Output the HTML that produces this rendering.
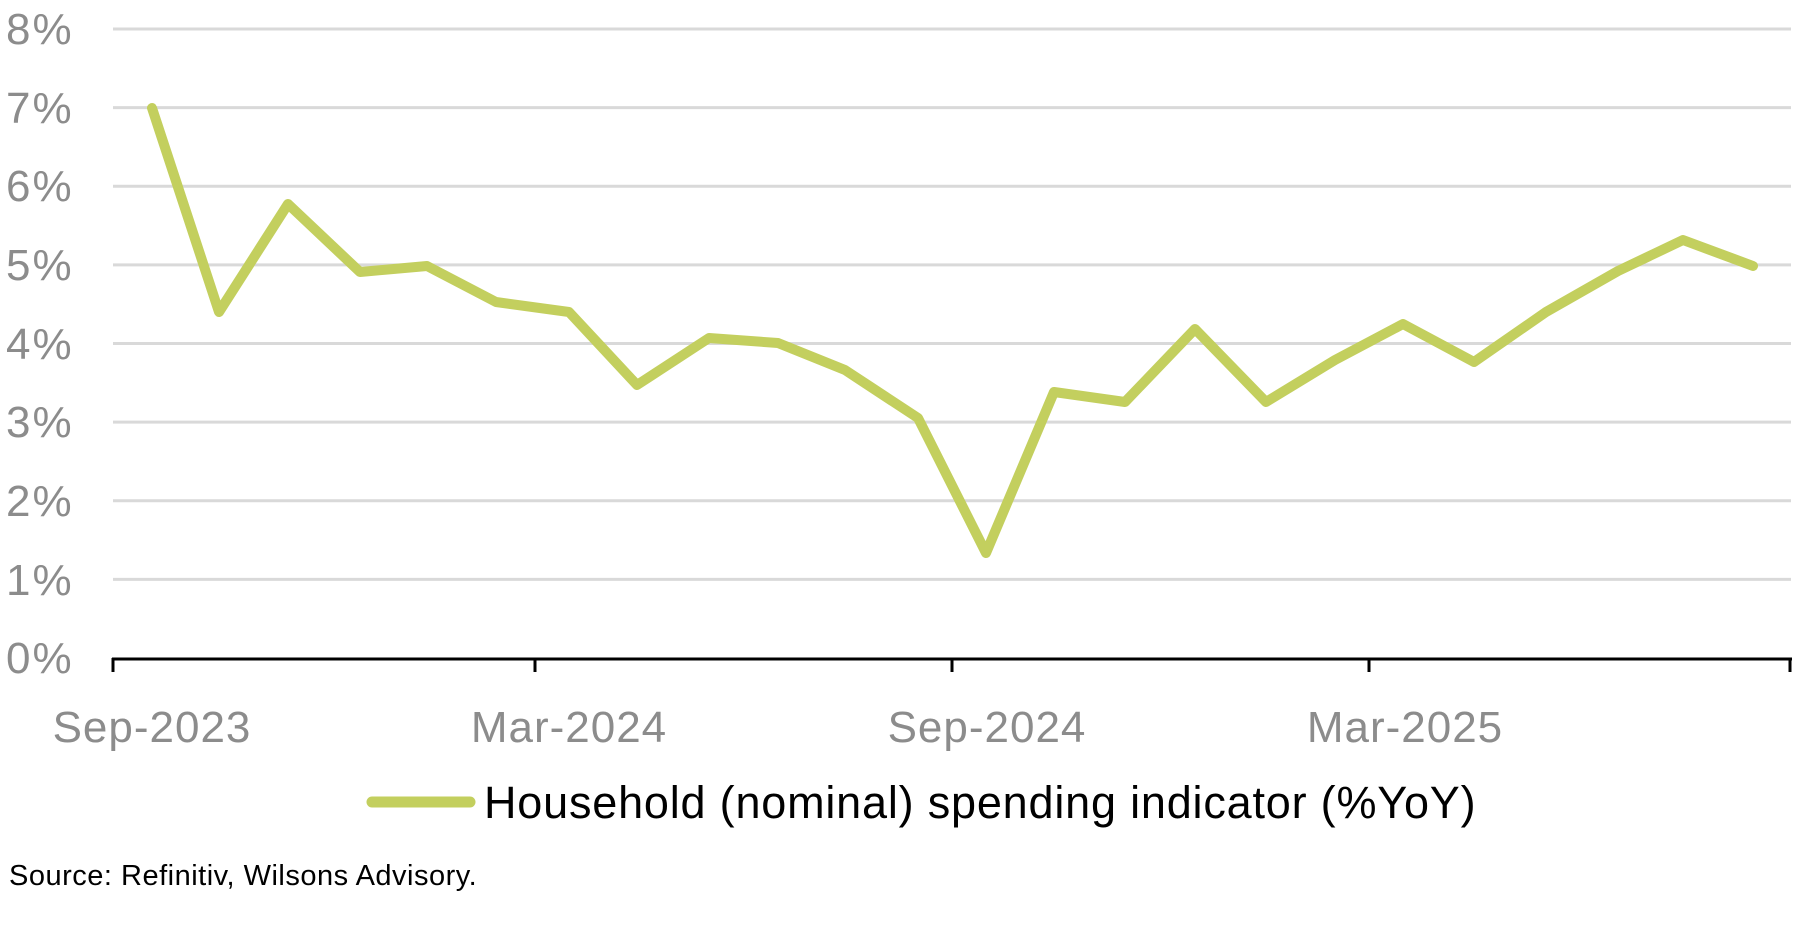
<!DOCTYPE html>
<html><head><style>
html,body{margin:0;padding:0;background:#fff;width:1800px;height:930px;overflow:hidden}
svg{display:block}
</style></head><body>
<svg width="1800" height="930" xmlns="http://www.w3.org/2000/svg" font-family="Liberation Sans, sans-serif">
<g stroke="#d9d9d9" stroke-width="3">
<line x1="113" x2="1791" y1="29" y2="29"/>
<line x1="113" x2="1791" y1="107.6" y2="107.6"/>
<line x1="113" x2="1791" y1="186.2" y2="186.2"/>
<line x1="113" x2="1791" y1="264.9" y2="264.9"/>
<line x1="113" x2="1791" y1="343.5" y2="343.5"/>
<line x1="113" x2="1791" y1="422.1" y2="422.1"/>
<line x1="113" x2="1791" y1="500.7" y2="500.7"/>
<line x1="113" x2="1791" y1="579.4" y2="579.4"/>
</g>
<g fill="#8c8c8c" font-size="44" letter-spacing="2">
<text x="6" y="44">8%</text>
<text x="6" y="123">7%</text>
<text x="6" y="201">6%</text>
<text x="6" y="280">5%</text>
<text x="6" y="359">4%</text>
<text x="6" y="437">3%</text>
<text x="6" y="516">2%</text>
<text x="6" y="595">1%</text>
<text x="6" y="673">0%</text>
</g>
<g stroke="#000" stroke-width="3">
<line x1="112" x2="1792" y1="659" y2="659"/>
<line x1="113" x2="113" y1="658" y2="672"/>
<line x1="535" x2="535" y1="658" y2="672"/>
<line x1="952" x2="952" y1="658" y2="672"/>
<line x1="1369" x2="1369" y1="658" y2="672"/>
<line x1="1790" x2="1790" y1="658" y2="672"/>
</g>
<g fill="#8c8c8c" font-size="44" letter-spacing="1" text-anchor="middle">
<text x="152" y="742">Sep-2023</text>
<text x="569" y="742">Mar-2024</text>
<text x="987" y="742">Sep-2024</text>
<text x="1405" y="742">Mar-2025</text>
</g>
<polyline fill="none" stroke="#c3cf5e" stroke-width="10" stroke-linejoin="round" stroke-linecap="round" points="
152,108 219,312 288,204 360,272 427,266 496,302 569,312 637,385 709,338 778,343 845,370 918,418 986,553 1054,392 1125,402 1195,329 1266,402 1335,360 1403,324 1474,362 1546,312 1618,271 1683,240 1753,266"/>
<line x1="372" x2="470" y1="802" y2="802" stroke="#c3cf5e" stroke-width="11" stroke-linecap="round"/>
<text x="484" y="818" font-size="45" letter-spacing="0.8" fill="#000">Household (nominal) spending indicator (%YoY)</text>
<text x="9" y="885" font-size="29" letter-spacing="0.5" fill="#000">Source: Refinitiv, Wilsons Advisory.</text>
</svg>
</body></html>
